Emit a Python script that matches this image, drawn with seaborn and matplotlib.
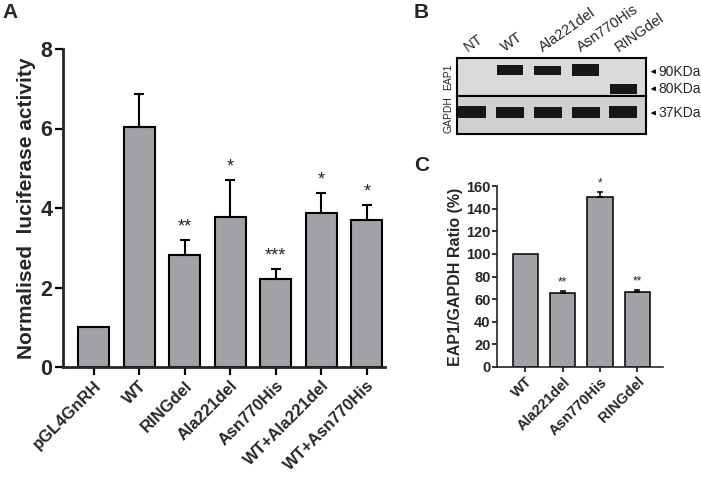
import numpy as np
import pandas as pd
import matplotlib
matplotlib.use('Agg')
import matplotlib.pyplot as plt
import matplotlib.transforms as mtransforms
import seaborn as sns

# ---- data ----
# Panel A: luciferase reporter
a_groups = ['pGL4GnRH', 'WT', 'RINGdel', 'Ala221del', 'Asn770His', 'WT+Ala221del', 'WT+Asn770His']
a_values = [1.0, 6.05, 2.82, 3.78, 2.22, 3.88, 3.70]
a_sem = [0.0, 0.82, 0.38, 0.93, 0.25, 0.50, 0.38]
a_sig = ['', '', '**', '*', '***', '*', '*']

# Panel B: western blot lanes and band signal (relative thickness)
b_lanes = ['NT', 'WT', 'Ala221del', 'Asn770His', 'RINGdel']
b_eap1_90 = [0.0, 0.27, 0.24, 0.32, 0.0]
b_eap1_80 = [0.0, 0.0, 0.0, 0.0, 0.26]
b_gapdh = [0.32, 0.30, 0.30, 0.29, 0.32]
b_markers = ['90KDa', '80KDa', '37KDa']

# Panel C: EAP1/GAPDH quantification
c_groups = ['WT', 'Ala221del', 'Asn770His', 'RINGdel']
c_values = [100, 65, 150, 66]
c_sem = [0, 2.4, 5.0, 2.2]
c_sig = ['', '**', '*', '**']

BAR = '#a2a2a6'
W, H = 701, 483

sns.set_style('ticks')
plt.rcParams['font.family'] = ['Liberation Sans', 'DejaVu Sans']

fig = plt.figure(figsize=(W / 100, H / 100), dpi=100)


def frac(x0, y0, x1, y1):
    return [x0 / W, 1 - y1 / H, (x1 - x0) / W, (y1 - y0) / H]


def bar_panel(ax, groups, values, sem, sig, lw, cap, star_size, star_off):
    df = pd.DataFrame({'group': groups, 'value': values})
    sns.barplot(data=df, x='group', y='value', color=BAR, edgecolor='k',
                linewidth=lw, width=0.68, saturation=1, errorbar=None, ax=ax)
    idx = [i for i, s in enumerate(sem) if s > 0]
    ax.errorbar(idx, [values[i] for i in idx],
                yerr=[[0] * len(idx), [sem[i] for i in idx]],
                fmt='none', ecolor='k', elinewidth=lw, capsize=cap, capthick=lw, zorder=1)
    for i, s in enumerate(sig):
        if s:
            ax.annotate(s, (i, values[i] + sem[i]), xytext=(0, star_off),
                        textcoords='offset points', ha='center', va='center',
                        fontsize=star_size)
    sns.despine(ax=ax)
    ax.set_xlabel('')


# ---- Panel A ----
axA = fig.add_axes(frac(63, 49, 385, 367))
bar_panel(axA, a_groups, a_values, a_sem, a_sig, 1.5, 3.6, 13, 9)
axA.set_ylim(0, 8)
axA.set_xlim(-0.67, 6.4)
axA.set_yticks([0, 2, 4, 6, 8])
axA.set_ylabel('Normalised  luciferase activity', fontsize=15, fontweight='bold', labelpad=3)
for s in ['left', 'bottom']:
    axA.spines[s].set_linewidth(2)
axA.tick_params(axis='both', length=6, width=1.6, color='k')
axA.tick_params(axis='y', labelsize=15.5, pad=1.5)
axA.tick_params(axis='x', pad=2)
for t in axA.get_yticklabels():
    t.set_fontweight('bold')
for t in axA.get_xticklabels():
    t.set_rotation(45)
    t.set_ha('right')
    t.set_rotation_mode('anchor')
    t.set_fontsize(12)
    t.set_fontweight('bold')

# ---- Panel C ----
axC = fig.add_axes(frac(497, 186, 663, 367))
bar_panel(axC, c_groups, c_values, c_sem, c_sig, 1.1, 2.5, 8.5, 6)
axC.set_ylim(0, 160)
axC.set_xlim(-0.76, 3.69)
axC.set_yticks(range(0, 161, 20))
axC.set_ylabel('EAP1/GAPDH Ratio (%)', fontsize=11.5, fontweight='bold', labelpad=2)
for s in ['left', 'bottom']:
    axC.spines[s].set_linewidth(1.2)
axC.tick_params(axis='both', length=3.5, width=1.1, color='k')
axC.tick_params(axis='y', labelsize=10.5, pad=1)
axC.tick_params(axis='x', pad=2)
for t in axC.get_yticklabels():
    t.set_fontweight('bold')
for t in axC.get_xticklabels():
    t.set_rotation(45)
    t.set_ha('right')
    t.set_rotation_mode('anchor')
    t.set_fontsize(10.5)
    t.set_fontweight('bold')

# ---- Panel B: blot ----
axB1 = fig.add_axes(frac(457, 58, 646, 96))
axB2 = fig.add_axes(frac(457, 96, 646, 134))
lane_x = np.arange(len(b_lanes))
band = dict(color='#161616', linewidth=0)
axB1.bar(lane_x, b_eap1_90, bottom=0.68 - np.array(b_eap1_90) / 2, width=0.7, **band)
axB1.bar(lane_x, b_eap1_80, bottom=0.18 - np.array(b_eap1_80) / 2, width=0.72, **band)
axB2.bar(lane_x, b_gapdh, bottom=0.57 - np.array(b_gapdh) / 2, width=0.74, **band)
for ax, bg, name in [(axB1, '#dadada', 'EAP1'), (axB2, '#d0d0d0', 'GAPDH')]:
    ax.set_facecolor(bg)
    ax.set_xlim(-0.4, 4.6)
    ax.set_ylim(0, 1)
    ax.set_xticks([])
    ax.set_yticks([])
    for s in ax.spines.values():
        s.set_linewidth(1.5)
        s.set_color('k')
    ax.text(-0.045, 0.5, name, transform=ax.transAxes, rotation=90,
            ha='center', va='center', fontsize=7.5)

trans = mtransforms.blended_transform_factory(axB1.transData, axB1.transAxes)
for i, lane in enumerate(b_lanes):
    axB1.text(i - 0.08, 1.1, lane, transform=trans, rotation=35, ha='left',
              va='bottom', rotation_mode='anchor', fontsize=10.5)

for ax, lab, y in [(axB1, b_markers[0], 0.64), (axB1, b_markers[1], 0.19), (axB2, b_markers[2], 0.55)]:
    ax.annotate(lab, xy=(1.025, y), xytext=(1.065, y), xycoords='axes fraction',
                textcoords='axes fraction', ha='left', va='center', fontsize=10,
                arrowprops=dict(arrowstyle='-|>', color='k', lw=0.8,
                                shrinkA=0, shrinkB=0, mutation_scale=6))

# panel letters
fig.text(2 / W, 1 - 18 / H, 'A', fontsize=15, fontweight='bold')
fig.text(414 / W, 1 - 18 / H, 'B', fontsize=15, fontweight='bold')
fig.text(414 / W, 1 - 171 / H, 'C', fontsize=15, fontweight='bold')

fig.savefig('out.png', dpi=100, facecolor='white')
